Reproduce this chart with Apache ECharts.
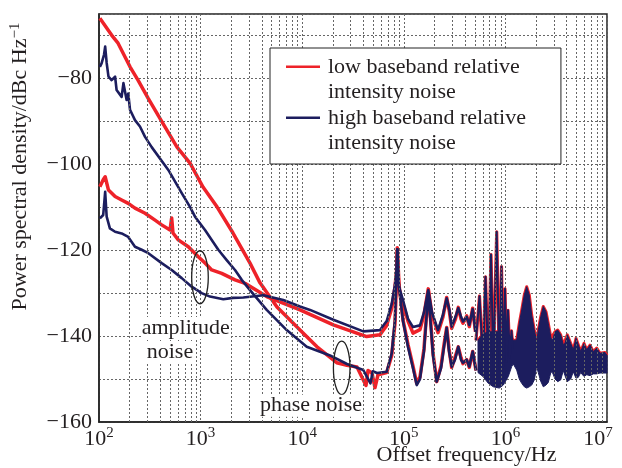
<!DOCTYPE html>
<html>
<head>
<meta charset="utf-8">
<script src="https://cdn.jsdelivr.net/npm/echarts@6/dist/echarts.min.js"></script>
<style>
html, body { margin: 0; padding: 0; background: #fff; }
#chart { width: 622px; height: 468px; }
</style>
</head>
<body>
<div id="chart"></div>
<script>
// values: [offset frequency / Hz, PSD / dBc Hz^-1]
var redPhase = [
    [102, -66.0], [133, -69.9], [154, -71.8], [202, -77.3], [242, -80.4], [304, -84.6],
    [417, -90.1], [586, -96.0], [786, -99.7], [1056, -105.3], [1450, -109.9], [2084, -116.0],
    [3064, -123.0], [3843, -127.6], [5649, -133.2], [9513, -138.6], [13990, -142.5],
    [21860, -146.2], [27600, -146.8], [34620, -147.2], [42460, -151.5], [44420, -148.0],
    [48640, -148.6], [52060, -152.0], [55720, -149.0], [67870, -148.5], [76020, -144.5],
    [81910, -137.0], [85130, -126.0], [86300, -119.4], [89700, -128.0], [98200, -136.2],
    [110000, -142.0], [123200, -147.0], [134000, -151.0], [144300, -149.5], [158000, -143.0],
    [167300, -135.0], [174200, -129.5], [183100, -136.0], [193900, -144.0], [210800, -150.6],
    [232300, -147.0], [248700, -142.0], [264400, -138.0], [278600, -143.0], [296100, -147.3],
    [319000, -145.0], [343900, -142.5], [365600, -145.0], [382500, -146.4], [416000, -145.5],
    [441300, -147.3], [476600, -143.6], [513600, -148.0]
];
var redAmp = [
    [102, -105.2], [110, -103.6], [115, -102.9], [124, -106.0], [144, -107.5], [167, -108.3],
    [194, -109.1], [226, -110.2], [284, -111.4], [356, -113.0], [414, -114.1], [500, -115.3],
    [519, -112.5], [535, -116.0], [603, -117.6], [757, -119.2], [949, -121.5], [1105, -123.0],
    [1286, -124.6], [1613, -125.4], [2181, -126.9], [2735, -127.7], [4472, -130.8],
    [9513, -133.9], [20240, -137.4], [43130, -140.1], [58310, -139.7], [67870, -137.5],
    [76020, -133.5], [81910, -128.5], [85130, -124.5], [86300, -120.3], [87500, -125.0],
    [89700, -129.0], [98200, -132.5], [110000, -136.5], [123200, -139.3], [144300, -138.5],
    [158000, -135.0], [174200, -129.0], [189500, -135.0], [217100, -139.2], [243100, -135.5],
    [264400, -131.0], [281800, -134.5], [296100, -138.2], [322800, -136.0], [343900, -133.3],
    [365600, -136.0], [382500, -137.0], [416000, -135.3], [441300, -137.8], [476600, -133.5],
    [507800, -139.0]
];
var navyPhase = [
    [102, -77.3], [106, -76.5], [112, -74.5], [115, -72.6], [119, -76.4], [124, -79.6],
    [133, -80.4], [144, -79.6], [149, -82.7], [167, -84.3], [174, -81.1], [187, -85.0],
    [194, -83.5], [202, -87.3], [226, -89.7], [253, -91.2], [284, -93.6], [330, -96.0],
    [481, -101.3], [652, -106.7], [786, -109.9], [881, -112.2], [1105, -115.3], [1494, -119.9],
    [1806, -122.3], [2181, -124.6], [2539, -126.9], [3064, -129.3], [4472, -133.9],
    [7038, -138.6], [11080, -142.5], [18780, -144.5], [27600, -146.5], [39940, -147.9],
    [47000, -151.0], [49500, -148.2], [54480, -148.6], [67870, -148.3], [76020, -144.0],
    [81910, -136.2], [85130, -124.6], [86300, -119.8], [89700, -128.5], [98200, -136.5],
    [110000, -142.5], [123200, -147.5], [134000, -151.4], [144300, -150.0], [158000, -143.5],
    [167300, -135.5], [174200, -130.0], [183100, -136.5], [193900, -144.5], [210800, -150.6],
    [232300, -147.5], [248700, -142.5], [264400, -138.1], [278600, -143.5], [296100, -147.1],
    [319000, -145.5], [343900, -142.5], [365600, -145.5], [382500, -146.2], [416000, -145.5],
    [441300, -147.1], [476600, -143.6], [513600, -148.0]
];
var navyAmp = [
    [102, -112.6], [110, -111.8], [115, -106.4], [119, -112.2], [128, -114.9], [144, -115.7],
    [167, -116.1], [194, -116.9], [226, -119.2], [263, -119.9], [306, -120.7], [414, -123.0],
    [519, -124.6], [652, -126.5], [817, -128.5], [1025, -130.0], [1237, -130.8], [1673, -131.4],
    [2084, -131.1], [2633, -131.0], [4142, -130.5], [6516, -131.6], [9513, -133.1],
    [11940, -133.9], [20240, -136.2], [39940, -138.9], [58310, -138.6], [67870, -136.5],
    [76020, -132.5], [81910, -128.0], [85130, -124.5], [86300, -119.8], [87500, -125.0],
    [89700, -128.5], [98200, -131.6], [110000, -136.0], [123200, -137.9], [144300, -137.5],
    [158000, -134.5], [174200, -129.3], [189500, -134.5], [217100, -138.6], [243100, -135.0],
    [264400, -131.2], [281800, -134.0], [296100, -137.8], [322800, -135.5], [343900, -133.5],
    [365600, -135.5], [382500, -136.6], [416000, -135.5], [441300, -137.4], [476600, -133.7],
    [507800, -139.0]
];
// tall resonance spikes just below and above 1 MHz (both traces lie on top of each other)
var spikes = [
    [513600, -141], [556100, -130.7], [601900, -146], [637100, -126.2], [678800, -147],
    [721700, -121.0], [760200, -147], [821000, -115.7], [871000, -147], [915400, -123.8],
    [953500, -147], [991000, -129.0], [1025000, -146], [1061000, -134.0], [1105000, -145],
    [1148000, -138.8], [1188000, -143]
];
// dense oscillation above ~0.5 MHz: envelope of the filled band
var bandFreq = [
    537500, 601900, 678800, 760200, 871000, 953500, 1068000, 1153000, 1196000, 1292000,
    1370000, 1447000, 1535000, 1620000, 1719000, 1815000, 1925000, 2033000, 2108000, 2226000,
    2360000, 2509000, 2643000, 2811000, 2921000, 3078000, 3272000, 3502000, 3715000, 3860000,
    4067000, 4392000, 4659000, 4953000, 5219000, 5510000, 5938000, 6312000, 6803000, 7333000,
    7918000, 8533000, 9557000, 10000000
];
var bandUpper = [
    -141, -139.5, -139, -139, -139, -139, -139.5, -140.5, -141, -140.9,
    -137, -133.9, -130.4, -128.5, -130.4, -135.1, -138.6, -141.3, -138.6, -135.5,
    -133.1, -134.3, -137.0, -140.5, -140.9, -139.0, -138.6, -139.7, -142.0, -141.7,
    -139.7, -141.7, -143.2, -140.5, -142.0, -143.6, -141.7, -143.2, -142.1, -143.6,
    -142.8, -144.0, -143.8, -144.5
];
var bandLower = [
    -148.5, -149.4, -151, -151.8, -152.1, -151.4, -149.4, -147.1, -146.5, -147.9,
    -150, -151, -151.8, -152.1, -151.8, -151.4, -150.2, -147.1, -148.5, -150.5,
    -151.8, -151.4, -150.8, -148.3, -148.6, -150, -150.6, -150.2, -148.0, -149.2,
    -150.6, -150, -148.3, -149.8, -149.6, -148.5, -149.4, -149, -149.2, -148.8,
    -148.8, -148.6, -148.6, -148.6
];
var decades = [1e2, 1e3, 1e4, 1e5, 1e6];
var minorSteps = [2, 3, 4, 5, 6, 7, 8, 9];

var LOW = 'low baseband relative\nintensity noise';
var HIGH = 'high baseband relative\nintensity noise';
var RED = '#ee2229';
var NAVY = '#1c1d5e';
var FONT = '"Liberation Serif", "Times New Roman", serif';
var TXT = '#231f20';

var minorLines = [];
decades.forEach(function (d) {
    minorSteps.forEach(function (m) { minorLines.push({ xAxis: d * m }); });
});

function lineSeries(name, data, color, width, z) {
    return {
        name: name, type: 'line', data: data, z: z,
        showSymbol: false, symbol: 'none', silent: true,
        color: color, itemStyle: { color: color },
        lineStyle: { color: color, width: width, join: 'round' }
    };
}

var chart = echarts.init(document.getElementById('chart'));
chart.setOption({
    animation: false,
    backgroundColor: '#fff',
    grid: {
        left: 99, right: 15, top: 14, bottom: 46, outerBoundsMode: 'none',
        show: true, borderColor: '#222', borderWidth: 1.5, backgroundColor: 'transparent'
    },
    legend: {
        data: [LOW, HIGH], z: 20,
        orient: 'vertical', left: 270, top: 48,
        padding: [6, 35, 8, 16], itemGap: 0,
        itemWidth: 37, itemHeight: 51,
        icon: 'path://M0,0h0.01v0.01h-0.01z M0,11.6h34v2.4h-34z M36.99,50.99h0.01v0.01h-0.01z',
        backgroundColor: '#fff', borderColor: '#222', borderWidth: 1,
        selectedMode: false,
        textStyle: { fontFamily: FONT, fontSize: 22, lineHeight: 25.5, color: TXT }
    },
    xAxis: {
        type: 'log', logBase: 10, min: 100, max: 1e7,
        axisLine: { show: true, lineStyle: { color: '#222', width: 1.5 } },
        axisTick: { show: false },
        splitLine: { show: true, lineStyle: { color: '#666', width: 1, type: [2, 2] } },
        axisLabel: {
            margin: 4,
            formatter: function (v) {
                var e = Math.round(Math.log10(v));
                // the last label is pulled inside the frame as in the original
                return '{b|10}{s|' + e + '}' + (e === 7 ? '{r|}' : '');
            },
            rich: {
                b: { fontFamily: FONT, fontSize: 22, color: TXT, verticalAlign: 'bottom', lineHeight: 24 },
                s: { fontFamily: FONT, fontSize: 15, color: TXT, verticalAlign: 'bottom', lineHeight: 24, padding: [0, 0, 9, 0] },
                r: { width: 18 }
            }
        },
        name: 'Offset frequency/Hz', nameLocation: 'middle', nameGap: 22, nameMoveOverlap: false,
        nameTextStyle: { fontFamily: FONT, fontSize: 22, color: TXT, padding: [0, 0, 0, 227] }
    },
    yAxis: {
        type: 'value', min: -160, max: -65, interval: 10,
        axisLine: { show: true, lineStyle: { color: '#222', width: 1.5 } },
        axisTick: { show: false },
        splitLine: { show: true, lineStyle: { color: '#666', width: 1, type: [2, 2] } },
        axisLabel: {
            margin: 7, fontFamily: FONT, fontSize: 22, color: TXT,
            formatter: function (v) { return v % 20 === 0 ? '\u2212' + Math.abs(v) : ''; }
        },
        name: 'Power spectral density/dBc Hz{s|\u22121}', nameLocation: 'middle', nameGap: 67, nameMoveOverlap: false,
        nameTextStyle: {
            fontFamily: FONT, fontSize: 22, color: TXT, padding: [0, 0, 0, 103],
            rich: { s: { fontFamily: FONT, fontSize: 15, color: TXT, verticalAlign: 'bottom', padding: [0, 0, 9, 0] } }
        }
    },
    series: [
        {
            name: 'grid', type: 'line', data: [], z: 1, silent: true,
            markLine: {
                silent: true, symbol: 'none', label: { show: false },
                lineStyle: { color: '#666', width: 1, type: [2, 2] },
                data: minorLines
            }
        },
        lineSeries(LOW, redPhase, RED, 3.5, 2),
        lineSeries(LOW, redAmp, RED, 3.5, 2),
        lineSeries(LOW, bandFreq.map(function (f, i) { return [f, bandUpper[i]]; }), RED, 3, 2),
        lineSeries(LOW, spikes, RED, 3.2, 2),
        lineSeries(HIGH, navyPhase, NAVY, 2.6, 3),
        lineSeries(HIGH, navyAmp, NAVY, 2.6, 3),
        {
            name: HIGH, type: 'custom', z: 3, silent: true,
            data: [[bandFreq[0], bandUpper[0]]],
            renderItem: function (params, api) {
                var pts = [];
                for (var i = 0; i < bandFreq.length; i++) pts.push(api.coord([bandFreq[i], bandUpper[i]]));
                for (var j = bandFreq.length - 1; j >= 0; j--) pts.push(api.coord([bandFreq[j], bandLower[j]]));
                return { type: 'polygon', shape: { points: pts }, style: { fill: NAVY, stroke: NAVY, lineWidth: 1 } };
            }
        },
        lineSeries(HIGH, spikes, NAVY, 2, 4)
    ]
});

// annotations, anchored in data coordinates
function px(f, v) { return chart.convertToPixel({ xAxisIndex: 0, yAxisIndex: 0 }, [f, v]); }
var a = px(986, -126.3), p = px(24480, -147.4);
var t1 = px(263, -138.1), t2 = px(295, -143.7), t3 = px(3843, -156.2);
function label(txt, pos) {
    return {
        type: 'text', x: pos[0], y: pos[1], z: 10, silent: true,
        style: { text: txt, fontFamily: FONT, fontSize: 22, fill: TXT, backgroundColor: '#fff',
                 align: 'left', verticalAlign: 'middle' }
    };
}
chart.setOption({
    graphic: [
        { type: 'ellipse', z: 10, silent: true, shape: { cx: a[0], cy: a[1], rx: 8.3, ry: 26.5 },
          style: { fill: 'none', stroke: '#222', lineWidth: 1.3 } },
        { type: 'ellipse', z: 10, silent: true, shape: { cx: p[0], cy: p[1], rx: 8.3, ry: 26.7 },
          style: { fill: 'none', stroke: '#222', lineWidth: 1.3 } },
        label('amplitude', t1),
        label('noise', t2),
        label('phase noise', t3)
    ]
});
</script>
</body>
</html>
